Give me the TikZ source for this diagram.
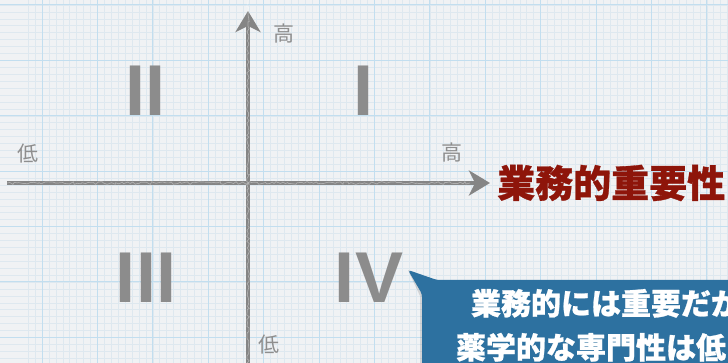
\documentclass[tikz,border=0pt]{standalone}
\usepackage{fontspec}
\setmainfont{Liberation Sans}
\newfontfamily\jp{Noto Sans CJK JP}
\newfontfamily\jpheavy{Noto Sans CJK JP}[BoldFeatures={FakeBold=0.8}]
\usetikzlibrary{arrows.meta,decorations.pathmorphing}
\definecolor{paper}{HTML}{F0F2F4}
\definecolor{gridmajor}{HTML}{C2DEEF}
\definecolor{gridminor}{HTML}{DEE8EF}
\definecolor{chalk}{HTML}{858585}
\definecolor{numgray}{HTML}{8C8C8C}
\definecolor{lblgray}{HTML}{8E8E8E}
\definecolor{titlered}{HTML}{8E150A}
\definecolor{callblue}{HTML}{2D71A0}
\begin{document}
\begin{tikzpicture}[x=1pt,y=-1pt,
  minorgrid/.style={gridminor,line width=0.55pt},
  majorgrid/.style={gridmajor,line width=1pt},
  axis/.style={chalk,line width=4.4pt,-{Stealth[length=21pt,width=25pt,inset=6pt]}},
  chalktex/.style={white,opacity=0.35,line width=0.7pt,decorate,decoration={random steps,segment length=2.5pt,amplitude=1.4pt}},
  lbl/.style={lblgray,inner sep=0pt,font=\jp\fontsize{21}{21}\selectfont},
  roman/.style={numgray,inner sep=0pt,font=\bfseries\fontsize{72}{72}\selectfont},
  titletext/.style={titlered,inner sep=0pt,anchor=west,font=\jpheavy\bfseries\fontsize{38}{38}\selectfont},
  calltext/.style={white,inner sep=0pt,align=center,font=\jpheavy\bfseries\fontsize{30}{44}\selectfont},
  callout/.style={fill=callblue,rounded corners=3pt}]
\useasboundingbox (0,0) rectangle (728,363);
\clip (0,0) rectangle (728,363);
\fill[paper] (-5,-5) rectangle (735,370);
% grid
\foreach \i in {-2,...,99} \draw[minorgrid] ({42+6.925*\i},0) -- ({42+6.925*\i},363);
\foreach \i in {-1,...,52} \draw[minorgrid] (0,{5+6.925*\i}) -- (728,{5+6.925*\i});
\foreach \i in {-1,...,13} \draw[majorgrid] ({42+55.4*\i},0) -- ({42+55.4*\i},363);
\foreach \i in {0,...,6} \draw[majorgrid] (0,{5+55.4*\i}) -- (728,{5+55.4*\i});
% axes
\coordinate (xl) at (7,183);
\coordinate (xr) at (490,183);
\coordinate (yb) at (248,368);
\coordinate (yt) at (248,11);
\draw[axis] (xl) -- (xr);
\draw[axis] (yb) -- (yt);
\draw[chalktex] (xl) -- ([xshift=-20pt]xr);
\draw[chalktex] (yb) -- ([yshift=20pt]yt);
% axis labels
\node[lbl] (hiY) at (284,34) {高};
\node[lbl] (loX) at (28,154) {低};
\node[lbl] (hiX) at (452,153) {高};
\node[lbl] (loY) at (269,345) {低};
% quadrant numerals
\node[roman] (q1) at (363,91) {I};
\node[roman] (q2) at (145.5,91) {II};
\node[roman] (q3) at (146,277.5) {III};
\node[roman] (q4) at (369,277.5) {IV};
% title
\node[titletext] (ttl) at (497,183) {業務的重要性};
% callout
\coordinate (tip) at (408,270);
\fill[black,opacity=0.12] (tip) -- (438,282) -- (740,282) -- (740,375) -- (420,375) -- (420,296) -- cycle;
\path[callout] (tip) -- (437,280) -- (740,280) -- (740,375) -- (422,375) -- (422,294) -- cycle;
\node[calltext] (ct) at (606,325) {業務的には重要だが\\薬学的な専門性は低い};
\end{tikzpicture}
\end{document}
